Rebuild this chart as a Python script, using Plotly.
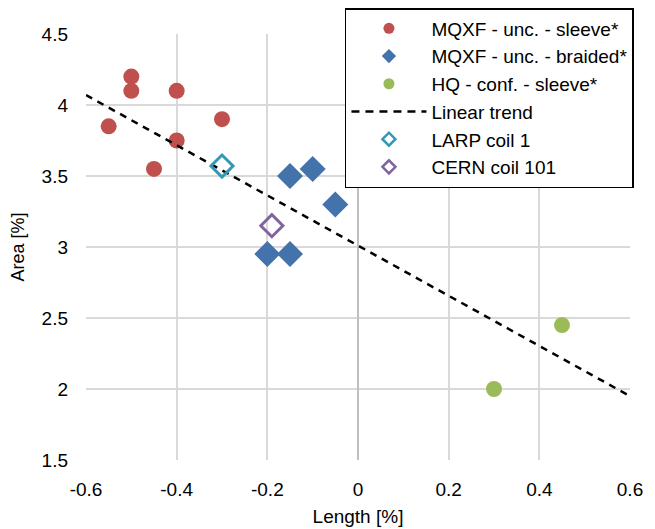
import plotly.graph_objects as go

# MQXF - unc. - sleeve*
sleeve_x = [-0.55, -0.5, -0.5, -0.4, -0.3, -0.4, -0.45]
sleeve_y = [3.85, 4.2, 4.1, 4.1, 3.9, 3.75, 3.55]

# MQXF - unc. - braided*
braided_x = [-0.15, -0.1, -0.05, -0.2, -0.15]
braided_y = [3.5, 3.55, 3.3, 2.95, 2.95]

# HQ - conf. - sleeve*
hq_x = [0.3, 0.45]
hq_y = [2.0, 2.45]

# Linear trend end points
trend_x = [-0.6, 0.6]
trend_y = [4.07, 1.95]

larp_x, larp_y = [-0.3], [3.57]
cern_x, cern_y = [-0.19], [3.15]

x_ticks = [-0.6, -0.4, -0.2, 0, 0.2, 0.4, 0.6]
x_tick_labels = ['-0.6', '-0.4', '-0.2', '0', '0.2', '0.4', '0.6']

RED, BLUE, GREEN = '#C0504D', '#4472AA', '#9BBB59'
TEAL, PURPLE = '#3399B3', '#8064A2'

fig = go.Figure()
# data traces (legend drawn by small proxy traces below)
fig.add_trace(go.Scatter(x=sleeve_x, y=sleeve_y, mode='markers', showlegend=False,
                         marker=dict(symbol='circle', size=16, color=RED)))
fig.add_trace(go.Scatter(x=braided_x, y=braided_y, mode='markers', showlegend=False,
                         marker=dict(symbol='diamond', size=20, color=BLUE)))
fig.add_trace(go.Scatter(x=hq_x, y=hq_y, mode='markers', showlegend=False,
                         marker=dict(symbol='circle', size=16, color=GREEN)))
fig.add_trace(go.Scatter(x=trend_x, y=trend_y, mode='lines', showlegend=False,
                         line=dict(color='black', width=2.5, dash='7px,6px')))
fig.add_trace(go.Scatter(x=larp_x, y=larp_y, mode='markers', showlegend=False,
                         marker=dict(symbol='diamond-open', size=17, color=TEAL,
                                     line=dict(width=3, color=TEAL))))
fig.add_trace(go.Scatter(x=cern_x, y=cern_y, mode='markers', showlegend=False,
                         marker=dict(symbol='diamond-open', size=17, color=PURPLE,
                                     line=dict(width=3, color=PURPLE))))

# legend proxies with smaller symbols
def proxy(name, **kw):
    fig.add_trace(go.Scatter(x=[None], y=[None], name=name, **kw))

proxy('MQXF - unc. - sleeve*', mode='markers', marker=dict(symbol='circle', size=11, color=RED))
proxy('MQXF - unc. - braided*', mode='markers', marker=dict(symbol='diamond', size=11, color=BLUE))
proxy('HQ - conf. - sleeve*', mode='markers', marker=dict(symbol='circle', size=11, color=GREEN))
proxy('Linear trend', mode='lines', line=dict(color='black', width=2.5, dash='8px,6px'))
proxy('LARP coil 1', mode='markers', marker=dict(symbol='diamond-open', size=10, color=TEAL,
                                                line=dict(width=2.5, color=TEAL)))
proxy('CERN coil 101', mode='markers', marker=dict(symbol='diamond-open', size=10, color=PURPLE,
                                                  line=dict(width=2.5, color=PURPLE)))

# page has an 8px body margin, so shift margins to line up with the reference
fig.update_layout(
    width=655,
    height=529,
    margin=dict(l=78, r=33, t=26, b=77, autoexpand=False),
    plot_bgcolor='white',
    paper_bgcolor='white',
    font=dict(family='Liberation Sans, Arial, sans-serif', size=19, color='black'),
    legend=dict(
        x=0.476, y=1.061, xanchor='left', yanchor='top',
        bgcolor='white', bordercolor='black', borderwidth=1.5,
        font=dict(size=19), itemwidth=75,
    ),
)
fig.update_xaxes(
    range=[-0.6, 0.6], tickvals=x_ticks, ticktext=x_tick_labels,
    showgrid=True, gridcolor='#D9D9D9', gridwidth=1.5,
    zeroline=True, zerolinecolor='#BFBFBF', zerolinewidth=1.5,
    title=dict(text='Length [%]', font=dict(size=19), standoff=10),
    ticks='', tickfont=dict(size=19), ticklabelstandoff=16,
)
fig.update_yaxes(
    range=[1.5, 4.5], dtick=0.5,
    showgrid=True, gridcolor='#D9D9D9', gridwidth=1.5,
    zeroline=False,
    title=dict(text='Area [%]', font=dict(size=18), standoff=12),
    ticks='', tickfont=dict(size=19), ticklabelstandoff=17,
)

fig.write_html("out.html")
